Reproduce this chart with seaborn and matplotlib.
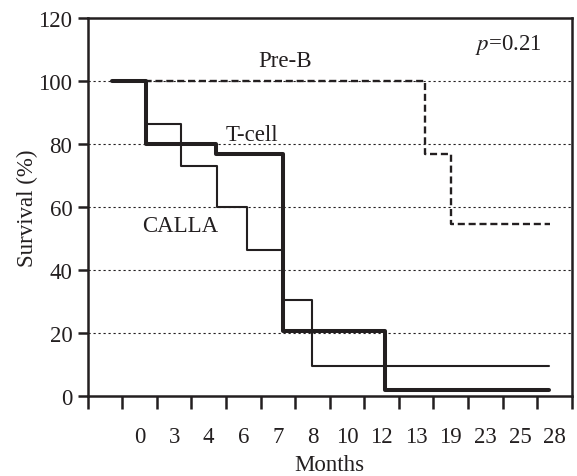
import numpy as np
import pandas as pd
import matplotlib
matplotlib.use('Agg')
import matplotlib.pyplot as plt
import seaborn as sns

# month labels sit at categorical slots 0..12 on the x axis
month_labels = ['0', '3', '4', '6', '7', '8', '10', '12', '13', '19', '23', '25', '28']

# step curves: x in slot units, survival in %
tcell_x = [-0.8, 0.18, 2.2, 4.16, 7.1, 11.85]
tcell_y = [100, 80, 76.8, 20.5, 2, 2]

calla_x = [-0.8, 0.18, 1.19, 2.23, 3.12, 4.16, 5.0, 11.85]
calla_y = [100, 86.3, 73.1, 60.1, 46.3, 30.3, 9.6, 9.6]

preb_x = [-0.8, 8.24, 9.01, 11.87]
preb_y = [100, 76.8, 54.6, 54.6]

ink = '#231f20'

sns.set_style('ticks')
plt.rcParams['font.family'] = ['Liberation Serif', 'DejaVu Serif']
plt.rcParams['font.size'] = 16.5

fig = plt.figure(figsize=(5.77, 4.77), dpi=100)
ax = fig.add_axes([0.152, 0.168, 0.839, 0.792])

for y in [20, 40, 60, 80, 100]:
    ax.axhline(y, color=ink, lw=0.8, dashes=(2, 2.5), zorder=1)

sns.lineplot(x=calla_x, y=calla_y, drawstyle='steps-post', color=ink,
             lw=1.5, ax=ax, zorder=3)
sns.lineplot(x=tcell_x, y=tcell_y, drawstyle='steps-post', color=ink,
             lw=2.9, ax=ax, zorder=4)
sns.lineplot(x=preb_x, y=preb_y, drawstyle='steps-post', color=ink,
             lw=1.7, dashes=(3, 1.6), ax=ax, zorder=3)

ax.text(4.21, 106.4, 'Pre-B', ha='center', va='center', color=ink)
ax.text(3.24, 82.9, 'T-cell', ha='center', va='center', color=ink)
ax.text(1.17, 54, 'CALLA', ha='center', va='center', color=ink)
ax.text(10.66, 111.7, r'$p$=0.21', ha='center', va='center', color=ink,
        math_fontfamily='stix')

ax.set_xlim(-1.5, 12.5)
ax.set_ylim(0, 120)
ax.set_yticks(np.arange(0, 121, 20))
ax.set_xticks(np.arange(len(month_labels)))
ax.set_xticklabels(month_labels)
ax.set_xticks(np.arange(-1.5, 12.6, 1), minor=True)
ax.tick_params(axis='x', which='major', length=0, pad=22, colors=ink)
ax.tick_params(axis='x', which='minor', length=9, width=1.8, direction='out', color=ink)
ax.tick_params(axis='y', length=7, width=1.8, direction='out', pad=4, colors=ink)

for s in ax.spines.values():
    s.set_linewidth(1.8)
    s.set_color(ink)

ax.set_xlabel('Months', color=ink, labelpad=5)
ax.set_ylabel('Survival (%)', color=ink, labelpad=0)

fig.savefig('out.png', dpi=100)
